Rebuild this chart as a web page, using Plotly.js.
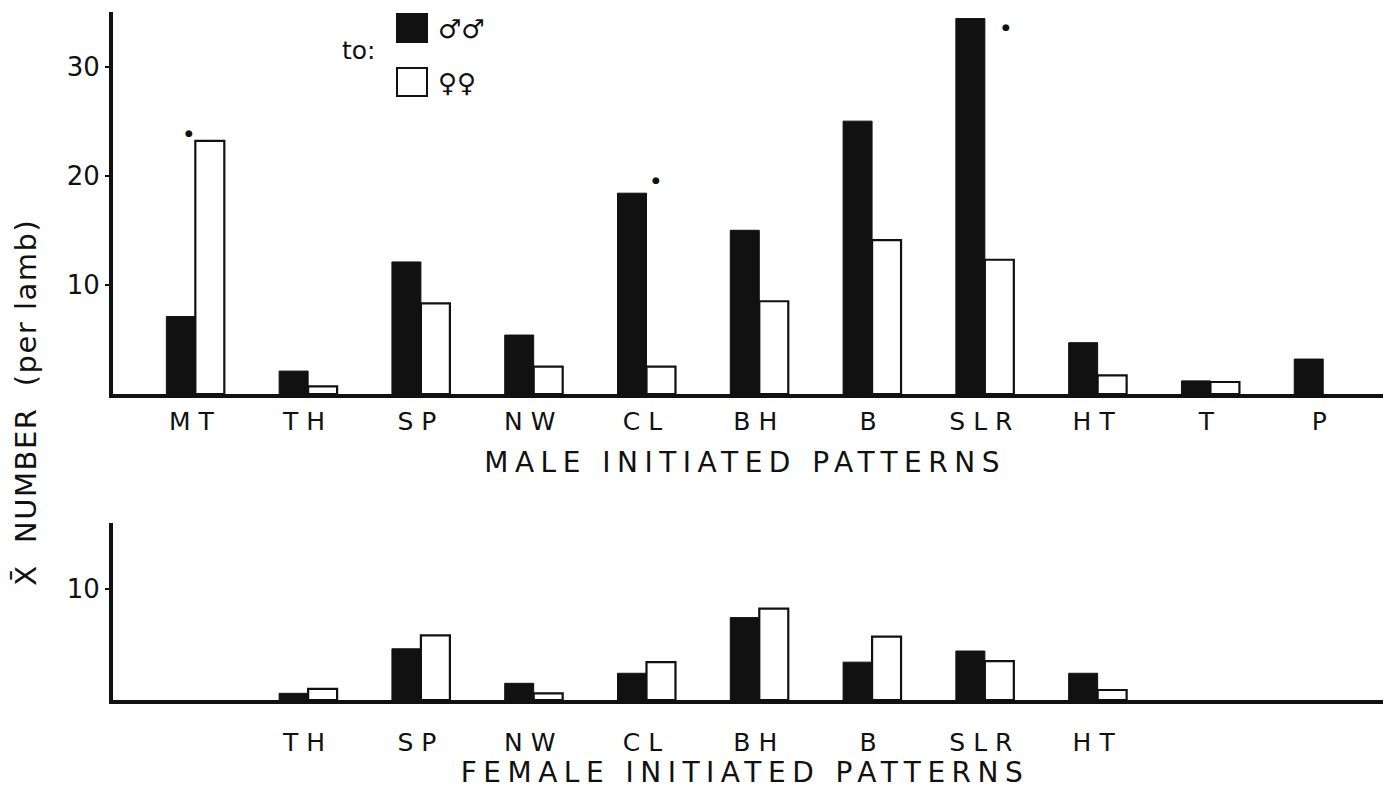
<!DOCTYPE html>
<html>
<head>
<meta charset="utf-8">
<script src="https://cdn.plot.ly/plotly-3.0.1.min.js"></script>
<style>
  html, body { margin: 0; padding: 0; background: #fff; }
  #chart { width: 1388px; height: 792px; }
  .xtick text, .x2tick text { letter-spacing: 8px; }
  g.annotation[data-index="0"] text,
  g.annotation[data-index="1"] text { letter-spacing: 6.5px; }
  g.annotation[data-index="2"] text { letter-spacing: 1.5px; }
</style>
</head>
<body>
<div id="chart"></div>
<script>
// Behaviour patterns (categories shared by both panels)
const patterns = ['MT', 'TH', 'SP', 'NW', 'CL', 'BH', 'B', 'SLR', 'HT', 'T', 'P'];

// Male initiated patterns: mean number per lamb, directed to males / to females
const maleInitToMales   = [7.1, 2.1, 12.1, 5.4, 18.4, 15.0, 25.0, 34.4, 4.7, 1.2, 3.2];
const maleInitToFemales = [23.2, 0.7, 8.3, 2.5, 2.5, 8.5, 14.1, 12.3, 1.7, 1.1, null];

// Female initiated patterns (MT, T and P not observed)
const femaleInitToMales   = [null, 0.6, 4.6, 1.5, 2.4, 7.4, 3.4, 4.4, 2.4, null, null];
const femaleInitToFemales = [null, 1.0, 5.8, 0.6, 3.4, 8.2, 5.7, 3.5, 0.9, null, null];
const femalePatterns = ['TH', 'SP', 'NW', 'CL', 'BH', 'B', 'SLR', 'HT'];

// Significant differences, marked with a dot
const sigPatterns = ['MT', 'CL', 'SLR'];
const sigShift = [{x: -6, y: 8}, {x: 10, y: 13}, {x: 21, y: -8}];

const FONT = 'DejaVu Sans, sans-serif';
const INK = '#111';

const maleBar = {color: INK, line: {color: INK, width: 1}};
const femaleBar = {color: '#fff', line: {color: INK, width: 2.2}};

const traces = [
  {type: 'bar', x: patterns, y: maleInitToMales, marker: maleBar, xaxis: 'x', yaxis: 'y', hoverinfo: 'x+y'},
  {type: 'bar', x: patterns, y: maleInitToFemales, marker: femaleBar, xaxis: 'x', yaxis: 'y', hoverinfo: 'x+y'},
  {type: 'bar', x: patterns, y: femaleInitToMales, marker: maleBar, xaxis: 'x2', yaxis: 'y2', hoverinfo: 'x+y'},
  {type: 'bar', x: patterns, y: femaleInitToFemales, marker: femaleBar, xaxis: 'x2', yaxis: 'y2', hoverinfo: 'x+y'}
];

const W = 1388, H = 792;
const px = v => v / W;
const py = v => 1 - v / H;

const xRange = [-0.73, 10.53];

const xCommon = {
  type: 'category',
  categoryorder: 'array',
  categoryarray: patterns,
  range: xRange,
  showline: true,
  linecolor: INK,
  linewidth: 3.5,
  showgrid: false,
  zeroline: false,
  ticks: '',
  tickfont: {family: FONT, size: 25, color: INK},
  fixedrange: true
};

const yCommon = {
  showline: true,
  linecolor: INK,
  linewidth: 4,
  showgrid: false,
  zeroline: false,
  ticks: 'outside',
  ticklen: 4,
  tickwidth: 2,
  tickcolor: INK,
  tickfont: {family: FONT, size: 26, color: INK},
  fixedrange: true
};

// significance dots placed over the taller bar of each marked pair
const sigAnnotations = sigPatterns.map((p, i) => {
  const k = patterns.indexOf(p);
  return {
    xref: 'x', yref: 'y', x: p,
    y: Math.max(maleInitToMales[k], maleInitToFemales[k]),
    text: '●', showarrow: false,
    font: {family: FONT, size: 9, color: INK},
    xshift: sigShift[i].x, yshift: sigShift[i].y
  };
});

const layout = {
  width: W, height: H,
  margin: {l: 0, r: 0, t: 0, b: 0},
  paper_bgcolor: '#fff',
  plot_bgcolor: 'rgba(0,0,0,0)',
  showlegend: false,
  barmode: 'group',
  bargap: 0.486,
  bargroupgap: 0,
  xaxis: Object.assign({}, xCommon, {
    domain: [px(113), px(1383)], anchor: 'y', ticklabelstandoff: 2
  }),
  yaxis: Object.assign({}, yCommon, {
    domain: [py(394), py(12)], anchor: 'x', range: [0, 35.0],
    tickvals: [10, 20, 30], ticktext: ['10', '20', '30']
  }),
  xaxis2: Object.assign({}, xCommon, {
    domain: [px(113), px(1383)], anchor: 'y2',
    tickvals: femalePatterns, ticktext: femalePatterns, ticklabelstandoff: 17
  }),
  yaxis2: Object.assign({}, yCommon, {
    domain: [py(700), py(523)], anchor: 'x2', range: [0, 15.9],
    tickvals: [10], ticktext: ['10']
  }),
  shapes: [
    {type: 'rect', xref: 'paper', yref: 'paper', x0: px(397), x1: px(427), y0: py(42), y1: py(14),
     fillcolor: INK, line: {color: INK, width: 2}},
    {type: 'rect', xref: 'paper', yref: 'paper', x0: px(397), x1: px(427), y0: py(96), y1: py(68),
     fillcolor: '#fff', line: {color: INK, width: 2}}
  ],
  annotations: [
    {xref: 'paper', yref: 'paper', x: px(745), y: py(463), text: 'MALE INITIATED PATTERNS',
     showarrow: false, xanchor: 'center', yanchor: 'middle',
     font: {family: FONT, size: 28, color: INK}},
    {xref: 'paper', yref: 'paper', x: px(745), y: py(772), text: 'FEMALE INITIATED PATTERNS',
     showarrow: false, xanchor: 'center', yanchor: 'middle',
     font: {family: FONT, size: 28, color: INK}},
    {xref: 'paper', yref: 'paper', x: px(26), y: py(402), text: 'X\u0304  NUMBER  (per lamb)',
     textangle: -90, showarrow: false, xanchor: 'center', yanchor: 'middle',
     font: {family: FONT, size: 29, color: INK}},
    {xref: 'paper', yref: 'paper', x: px(340), y: py(50), text: 'to:',
     showarrow: false, xanchor: 'left', yanchor: 'middle',
     font: {family: FONT, size: 25, color: INK}},
    {xref: 'paper', yref: 'paper', x: px(436), y: py(29), text: '♂♂',
     showarrow: false, xanchor: 'left', yanchor: 'middle',
     font: {family: FONT, size: 26, color: INK}},
    {xref: 'paper', yref: 'paper', x: px(436), y: py(83), text: '♀♀',
     showarrow: false, xanchor: 'left', yanchor: 'middle',
     font: {family: FONT, size: 26, color: INK}}
  ].concat(sigAnnotations)
};

Plotly.newPlot('chart', traces, layout, {displayModeBar: false, staticPlot: true});
</script>
</body>
</html>
